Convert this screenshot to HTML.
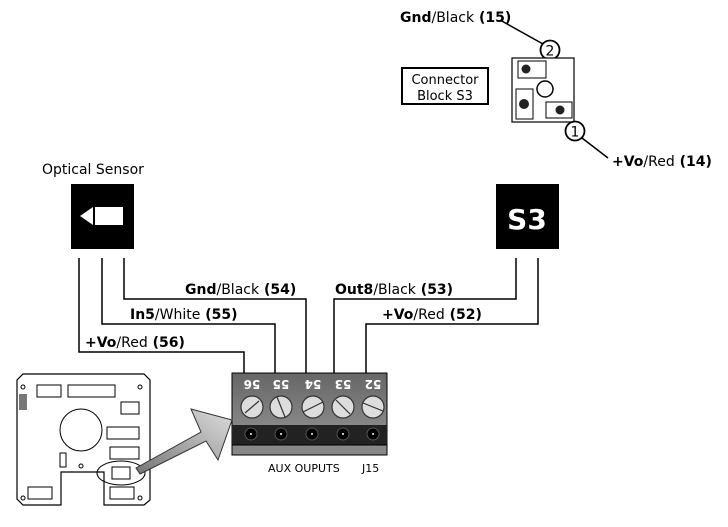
<!DOCTYPE html>
<html><head><style>
html,body{margin:0;padding:0;background:#fff;}
svg{display:block;}
text{font-family:"DejaVu Sans","Liberation Sans",sans-serif;}
</style></head><body>
<svg width="728" height="527" viewBox="0 0 728 527" xmlns="http://www.w3.org/2000/svg">
<defs>
<linearGradient id="blk" x1="0" y1="0" x2="0" y2="1"><stop offset="0" stop-color="#666"/><stop offset="1" stop-color="#999"/></linearGradient>
<linearGradient id="arr" x1="0" y1="1" x2="1" y2="0"><stop offset="0" stop-color="#777"/><stop offset="1" stop-color="#ddd"/></linearGradient>
</defs>
<!-- top connector block -->
<text x="400" y="22" font-size="14" font-weight="bold">Gnd<tspan font-weight="normal">/Black</tspan> (15)</text>
<line x1="500" y1="20" x2="543" y2="44" stroke="#000" stroke-width="1.5"/>
<circle cx="550" cy="50" r="9.5" fill="#fff" stroke="#000" stroke-width="1.8"/>
<text x="550" y="55.5" font-size="14" text-anchor="middle">2</text>
<rect x="512" y="58" width="62" height="64" fill="#fff" stroke="#000" stroke-width="1.2"/>
<rect x="518" y="61" width="28" height="17" fill="#fff" stroke="#000"/><circle cx="526" cy="69" r="4.5" fill="#222"/>
<circle cx="545" cy="89" r="8" fill="#fff" stroke="#000" stroke-width="1.5"/>
<rect x="516" y="89" width="17" height="30" fill="#fff" stroke="#000"/><circle cx="524" cy="104" r="5" fill="#222"/>
<rect x="546" y="102" width="26" height="16" fill="#fff" stroke="#000"/><circle cx="560" cy="110" r="4.5" fill="#222"/>
<rect x="402" y="68" width="86" height="36" fill="#fff" stroke="#000" stroke-width="2"/>
<text x="445" y="84" font-size="13" text-anchor="middle">Connector</text>
<text x="445" y="100" font-size="13" text-anchor="middle">Block S3</text>
<circle cx="575" cy="131" r="9.5" fill="#fff" stroke="#000" stroke-width="1.8"/>
<text x="575" y="136.5" font-size="14" text-anchor="middle">1</text>
<line x1="582" y1="138" x2="608" y2="158" stroke="#000" stroke-width="1.5"/>
<text x="612" y="166" font-size="14" font-weight="bold">+Vo<tspan font-weight="normal">/Red</tspan> (14)</text>
<!-- sensors -->
<text x="42" y="174" font-size="14">Optical Sensor</text>
<rect x="71" y="184" width="63" height="65" fill="#000"/>
<polygon points="80,216 93,207 93,225" fill="#fff"/>
<rect x="95" y="207" width="28" height="18" fill="#fff"/>
<rect x="496" y="184" width="63" height="65" fill="#000"/>
<text x="527" y="229" font-size="28" font-weight="bold" fill="#fff" text-anchor="middle" font-family="Liberation Sans">S3</text>
<!-- wires -->
<g fill="none" stroke="#000" stroke-width="1.5">
<polyline points="79,258 79,352 244,352 244,374"/>
<polyline points="102,258 102,324 275,324 275,374"/>
<polyline points="124,258 124,299 306,299 306,374"/>
<polyline points="516,258 516,299 334,299 334,374"/>
<polyline points="538,258 538,324 366,324 366,374"/>
</g>
<text x="185" y="294" font-size="14" font-weight="bold">Gnd<tspan font-weight="normal">/Black</tspan> (54)</text>
<text x="130" y="319" font-size="14" font-weight="bold">In5<tspan font-weight="normal">/White</tspan> (55)</text>
<text x="85" y="347" font-size="14" font-weight="bold">+Vo<tspan font-weight="normal">/Red</tspan> (56)</text>
<text x="335" y="294" font-size="14" font-weight="bold">Out8<tspan font-weight="normal">/Black</tspan> (53)</text>
<text x="382" y="319" font-size="14" font-weight="bold">+Vo<tspan font-weight="normal">/Red</tspan> (52)</text>
<!-- terminal block -->
<rect x="232" y="373" width="155" height="82" fill="url(#blk)" stroke="#000"/>
<rect x="232" y="425" width="155" height="20" fill="#222"/>
<rect x="232" y="445" width="155" height="10" fill="#888" stroke="#000"/>
<g font-size="12" fill="#fff" text-anchor="middle" font-weight="bold">
<text x="252" y="388" transform="rotate(180 252 384)">56</text>
<text x="281" y="388" transform="rotate(180 281 384)">55</text>
<text x="313" y="388" transform="rotate(180 313 384)">54</text>
<text x="343" y="388" transform="rotate(180 343 384)">53</text>
<text x="373" y="388" transform="rotate(180 373 384)">52</text>
</g>
<g stroke="#333" stroke-width="1.2">
<circle cx="252" cy="407" r="11" fill="#ddd"/><line x1="245" y1="413" x2="259" y2="401"/>
<circle cx="281" cy="407" r="11" fill="#ddd"/><line x1="277" y1="397" x2="285" y2="417"/>
<circle cx="313" cy="407" r="11" fill="#ddd"/><line x1="303" y1="412" x2="323" y2="402"/>
<circle cx="343" cy="407" r="11" fill="#ddd"/><line x1="336" y1="400" x2="350" y2="414"/>
<circle cx="373" cy="407" r="11" fill="#ddd"/><line x1="363" y1="403" x2="383" y2="411"/>
</g>
<g fill="#000" stroke="#555"><circle cx="251" cy="434" r="6"/><circle cx="281" cy="434" r="6"/><circle cx="312" cy="434" r="6"/><circle cx="343" cy="434" r="6"/><circle cx="373" cy="434" r="6"/></g>
<g fill="#fff"><circle cx="251" cy="434" r="1"/><circle cx="281" cy="434" r="1"/><circle cx="312" cy="434" r="1"/><circle cx="343" cy="434" r="1"/><circle cx="373" cy="434" r="1"/></g>
<text x="268" y="472" font-size="11" font-family="Liberation Sans">AUX OUPUTS</text>
<text x="362" y="472" font-size="11" font-family="Liberation Sans">J15</text>
<!-- pcb -->
<path d="M23,374 L144,374 L150,380 L150,500 L144,505 L104,505 L104,472 L61,472 L61,505 L23,505 L17,499 L17,380 Z" fill="#fff" stroke="#000" stroke-width="1.2"/>
<g fill="none" stroke="#000">
<rect x="37" y="385" width="24" height="12"/><rect x="68" y="385" width="47" height="12"/>
<rect x="121" y="402" width="18" height="12"/><rect x="107" y="427" width="32" height="12"/>
<rect x="110" y="447" width="29" height="12"/><rect x="112" y="467" width="18" height="12"/>
<rect x="110" y="487" width="24" height="12"/><rect x="28" y="487" width="24" height="12"/>
<rect x="60" y="453" width="6" height="14"/>
<circle cx="81" cy="430" r="21"/>
<circle cx="23" cy="387" r="2"/><circle cx="140" cy="387" r="2"/><circle cx="23" cy="498" r="2"/><circle cx="140" cy="498" r="2"/><circle cx="81" cy="466" r="2"/>
<ellipse cx="121" cy="473" rx="24" ry="12"/>
</g>
<rect x="19" y="394" width="8" height="16" fill="#777"/>
<!-- big arrow -->
<polygon points="140,474 206,441 218,460 232,420 191,409 201,432 136,468" fill="url(#arr)" stroke="#333"/>
</svg>
</body></html>
